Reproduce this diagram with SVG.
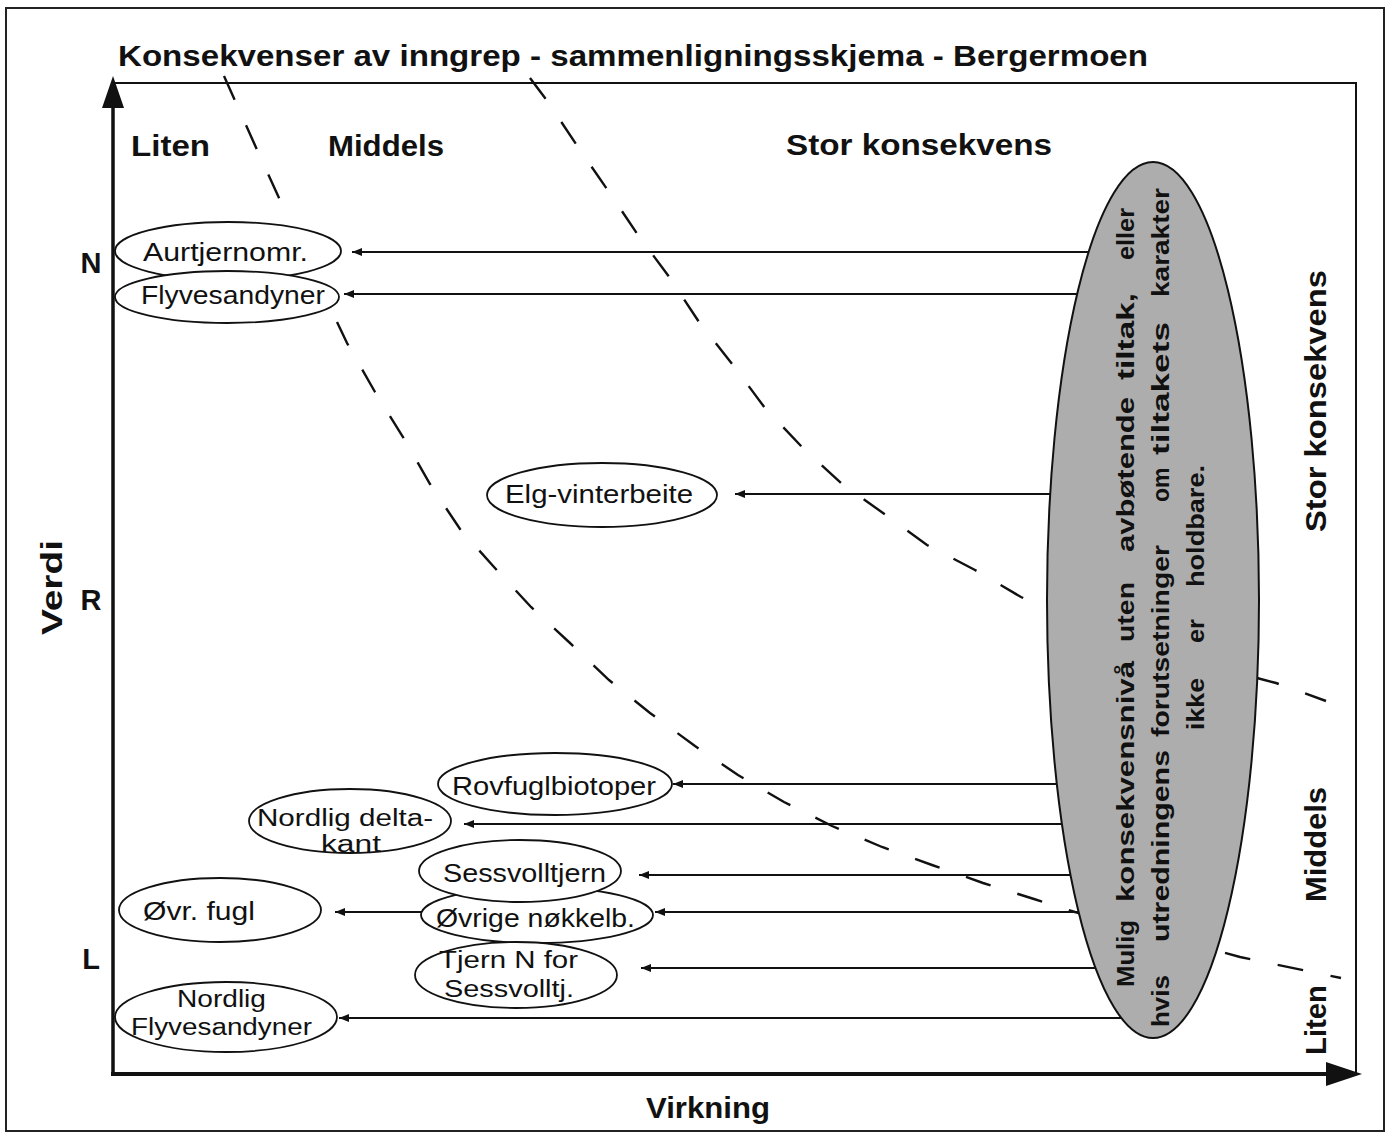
<svg xmlns="http://www.w3.org/2000/svg" width="1387" height="1136" viewBox="0 0 1387 1136">
<style>
.lbl{font-family:"Liberation Sans",Arial,sans-serif;font-weight:bold;fill:#111}
.nt{font-family:"Liberation Sans",Arial,sans-serif;font-size:26px;fill:#111}
.nt2{font-family:"Liberation Sans",Arial,sans-serif;font-size:23px;fill:#111}
.et{font-family:"Liberation Sans",Arial,sans-serif;font-weight:bold;font-size:23px;fill:#111}
.node{fill:#fff;stroke:#111;stroke-width:1.8}
.conn{stroke:#111;stroke-width:2;fill:none;marker-end:url(#arr)}
.dash{stroke:#111;stroke-width:2.4;fill:none;stroke-dasharray:26 28}
</style>
<defs>
<marker id="arr" markerUnits="userSpaceOnUse" markerWidth="10" markerHeight="8" refX="10" refY="4" orient="auto">
<path d="M0,0 L10,4 L0,8 z" fill="#111"/>
</marker>
</defs>
<rect x="0" y="0" width="1387" height="1136" fill="#fff"/>
<rect x="6" y="8" width="1378" height="1123" fill="none" stroke="#222" stroke-width="2"/>

<g id="frame">
<polyline points="113,83 1356,83 1356,1073" fill="none" stroke="#111" stroke-width="2"/>
<line x1="113" y1="1073" x2="113" y2="104" stroke="#111" stroke-width="3.5"/>
<polygon points="113,76 102,108 124,108" fill="#111"/>
<line x1="111" y1="1074" x2="1328" y2="1074" stroke="#111" stroke-width="4"/>
<polygon points="1362,1074 1326,1062 1326,1086" fill="#111"/>
</g>

<g id="labels">
<text class="lbl" x="118" y="66" font-size="30" textLength="1030" lengthAdjust="spacingAndGlyphs">Konsekvenser av inngrep - sammenligningsskjema - Bergermoen</text>
<text class="lbl" x="131" y="156" font-size="29" textLength="79" lengthAdjust="spacingAndGlyphs">Liten</text>
<text class="lbl" x="328" y="156" font-size="29" textLength="116" lengthAdjust="spacingAndGlyphs">Middels</text>
<text class="lbl" x="786" y="155" font-size="29" textLength="266" lengthAdjust="spacingAndGlyphs">Stor konsekvens</text>
<text class="lbl" x="646" y="1118" font-size="29" textLength="124" lengthAdjust="spacingAndGlyphs">Virkning</text>
<text class="lbl" x="62" y="635" font-size="29" textLength="95" lengthAdjust="spacingAndGlyphs" transform="rotate(-90 62 635)">Verdi</text>
<text class="lbl" x="91" y="273" font-size="29" text-anchor="middle">N</text>
<text class="lbl" x="91" y="610" font-size="29" text-anchor="middle">R</text>
<text class="lbl" x="91" y="969" font-size="29" text-anchor="middle">L</text>
<text class="lbl" x="1326" y="532" font-size="29" textLength="262" lengthAdjust="spacingAndGlyphs" transform="rotate(-90 1326 532)">Stor konsekvens</text>
<text class="lbl" x="1326" y="902" font-size="29" textLength="115" lengthAdjust="spacingAndGlyphs" transform="rotate(-90 1326 902)">Middels</text>
<text class="lbl" x="1326" y="1055" font-size="29" textLength="70" lengthAdjust="spacingAndGlyphs" transform="rotate(-90 1326 1055)">Liten</text>
</g>

<g id="connectors">
<polyline class="dash" points="224,76 258,152 280,200"/>
<polyline class="dash" points="337,322 347,343 375,392 403,437 430,484 460,529 494,567 531,607 570,643 609,680 650,713 695,746 738,775 784,802 832,826 882,847 932,865 983,883 1034,899 1075,912 1240,957 1341,978"/>
<polyline class="dash" points="530,78 548,102 578,147 609,192 638,235 670,278 699,322 733,365 765,408 802,447 841,483 883,513 927,545 975,570 1021,597 1060,615 1257,678 1276,683 1326,701"/>
<line class="conn" x1="1095" y1="252" x2="352" y2="252"/>
<line class="conn" x1="1082" y1="294" x2="344" y2="294"/>
<line class="conn" x1="1055" y1="494" x2="735" y2="494"/>
<line class="conn" x1="1062" y1="784" x2="673" y2="784"/>
<line class="conn" x1="1067" y1="824" x2="464" y2="824"/>
<line class="conn" x1="1075" y1="875" x2="639" y2="875"/>
<line class="conn" x1="1084" y1="912" x2="655" y2="912"/>
<line class="conn" x1="423" y1="912" x2="335" y2="912"/>
<line class="conn" x1="1100" y1="968" x2="641" y2="968"/>
<line class="conn" x1="1126" y1="1018" x2="339" y2="1018"/>
</g>

<g id="n-mulig">
<ellipse cx="1153" cy="600" rx="106" ry="438" fill="#adadad" stroke="#111" stroke-width="2"/>
<text class="et" x="1134" y="987" textLength="67" lengthAdjust="spacingAndGlyphs" transform="rotate(-90 1134 987)">Mulig</text>
<text class="et" x="1134" y="902" textLength="241" lengthAdjust="spacingAndGlyphs" transform="rotate(-90 1134 902)">konsekvensnivå</text>
<text class="et" x="1134" y="642" textLength="60" lengthAdjust="spacingAndGlyphs" transform="rotate(-90 1134 642)">uten</text>
<text class="et" x="1134" y="552" textLength="155" lengthAdjust="spacingAndGlyphs" transform="rotate(-90 1134 552)">avbøtende</text>
<text class="et" x="1134" y="380" textLength="87" lengthAdjust="spacingAndGlyphs" transform="rotate(-90 1134 380)">tiltak,</text>
<text class="et" x="1134" y="260" textLength="52" lengthAdjust="spacingAndGlyphs" transform="rotate(-90 1134 260)">eller</text>
<text class="et" x="1169" y="1027" textLength="52" lengthAdjust="spacingAndGlyphs" transform="rotate(-90 1169 1027)">hvis</text>
<text class="et" x="1169" y="942" textLength="192" lengthAdjust="spacingAndGlyphs" transform="rotate(-90 1169 942)">utredningens</text>
<text class="et" x="1169" y="737" textLength="192" lengthAdjust="spacingAndGlyphs" transform="rotate(-90 1169 737)">forutsetninger</text>
<text class="et" x="1169" y="502" transform="rotate(-90 1169 502)">om</text>
<text class="et" x="1169" y="455" textLength="133" lengthAdjust="spacingAndGlyphs" transform="rotate(-90 1169 455)">tiltakets</text>
<text class="et" x="1169" y="297" textLength="109" lengthAdjust="spacingAndGlyphs" transform="rotate(-90 1169 297)">karakter</text>
<text class="et" x="1204" y="730" textLength="52" lengthAdjust="spacingAndGlyphs" transform="rotate(-90 1204 730)">ikke</text>
<text class="et" x="1204" y="643" textLength="24" lengthAdjust="spacingAndGlyphs" transform="rotate(-90 1204 643)">er</text>
<text class="et" x="1204" y="587" textLength="122" lengthAdjust="spacingAndGlyphs" transform="rotate(-90 1204 587)">holdbare.</text>
</g>

<g id="n-aurtjernomr">
<ellipse class="node" cx="228" cy="251" rx="113" ry="29"/>
<text class="nt" x="143" y="261" textLength="165" lengthAdjust="spacingAndGlyphs">Aurtjernomr.</text>
</g>
<g id="n-flyvesandyner">
<ellipse class="node" cx="227" cy="297" rx="112" ry="26"/>
<text class="nt" x="141" y="304" textLength="184" lengthAdjust="spacingAndGlyphs">Flyvesandyner</text>
</g>
<g id="n-elg">
<ellipse class="node" cx="602" cy="495" rx="115" ry="32"/>
<text class="nt" x="505" y="503" textLength="188" lengthAdjust="spacingAndGlyphs">Elg-vinterbeite</text>
</g>
<g id="n-rovfugl">
<ellipse class="node" cx="555" cy="784" rx="117" ry="31"/>
<text class="nt" x="452" y="795" textLength="204" lengthAdjust="spacingAndGlyphs">Rovfuglbiotoper</text>
</g>
<g id="n-deltakant">
<ellipse class="node" cx="350" cy="821" rx="101" ry="32" stroke-width="3.2"/>
<text class="nt2" x="257" y="826" textLength="176" lengthAdjust="spacingAndGlyphs">Nordlig delta-</text>
<text class="nt2" x="321" y="852" textLength="60" lengthAdjust="spacingAndGlyphs">kant</text>
</g>
<g id="n-ovrige">
<ellipse class="node" cx="537" cy="915" rx="116" ry="28"/>
<text class="nt" x="436" y="927" textLength="199" lengthAdjust="spacingAndGlyphs">Øvrige nøkkelb.</text>
</g>
<g id="n-sessvolltjern">
<ellipse class="node" cx="520" cy="871" rx="101" ry="31"/>
<text class="nt" x="443" y="882" textLength="163" lengthAdjust="spacingAndGlyphs">Sessvolltjern</text>
</g>
<g id="n-ovrfugl">
<ellipse class="node" cx="220" cy="910" rx="101" ry="32"/>
<text class="nt" x="143" y="920" textLength="112" lengthAdjust="spacingAndGlyphs">Øvr. fugl</text>
</g>
<g id="n-tjern">
<ellipse class="node" cx="516" cy="975" rx="101" ry="33"/>
<text class="nt2" x="439" y="968" textLength="139" lengthAdjust="spacingAndGlyphs">Tjern N for</text>
<text class="nt2" x="444" y="997" textLength="130" lengthAdjust="spacingAndGlyphs">Sessvolltj.</text>
</g>
<g id="n-nordligflyve">
<ellipse class="node" cx="226" cy="1017" rx="111" ry="35"/>
<text class="nt2" x="177" y="1007" textLength="89" lengthAdjust="spacingAndGlyphs">Nordlig</text>
<text class="nt2" x="131" y="1035" textLength="181" lengthAdjust="spacingAndGlyphs">Flyvesandyner</text>
</g>
</svg>
